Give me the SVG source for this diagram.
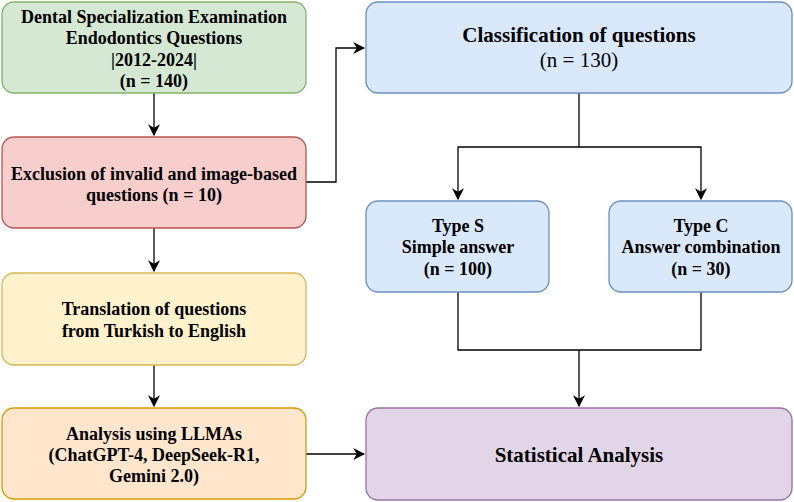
<svg xmlns="http://www.w3.org/2000/svg" width="794" height="502" viewBox="0 0 794 502">
<defs>
<marker id="arr" viewBox="0 0 10 10" refX="9" refY="5" markerWidth="12" markerHeight="12" markerUnits="userSpaceOnUse" orient="auto">
<path d="M0,0 L10,5 L0,10 L3,5 Z" fill="#000"/>
</marker>
<style>
.box{stroke-width:1.3}
.t{font-family:"Liberation Serif","Times New Roman",serif;font-weight:bold;font-size:18px;fill:#000;text-anchor:middle}
.n{font-weight:normal}
.big{font-size:21px}
.c{fill:none;stroke:#000;stroke-width:1.3}
</style>
</defs>
<g id="connectors">
<path class="c" d="M154,93 V135" marker-end="url(#arr)"/>
<path class="c" d="M154,228 V271" marker-end="url(#arr)"/>
<path class="c" d="M154,365 V406" marker-end="url(#arr)"/>
<path class="c" d="M306,182 H336 V48 H364" marker-end="url(#arr)"/>
<path class="c" d="M579,93 V147 H458 V199" marker-end="url(#arr)"/>
<path class="c" d="M579,147 H701 V199" marker-end="url(#arr)"/>
<path class="c" d="M458,292 V350 H701 V292"/>
<path class="c" d="M579,350 V406" marker-end="url(#arr)"/>
<path class="c" d="M306,454 H364" marker-end="url(#arr)"/>
</g>
<g id="n1">
<rect class="box" x="2" y="2" width="304" height="91" rx="12" fill="#d5e8d4" stroke="#82b366"/>
<text class="t" x="154" y="23">Dental Specialization Examination</text>
<text class="t" x="154" y="44">Endodontics Questions</text>
<text class="t" x="154" y="66">|2012-2024|</text>
<text class="t" x="154" y="87">(n = 140)</text>
</g>
<g id="n2">
<rect class="box" x="2" y="137" width="304" height="91" rx="12" fill="#f8cecc" stroke="#b85450"/>
<text class="t" x="154" y="180">Exclusion of invalid and image-based</text>
<text class="t" x="154" y="201">questions (n = 10)</text>
</g>
<g id="n3">
<rect class="box" x="2" y="273" width="304" height="92" rx="12" fill="#fff2cc" stroke="#d6b656"/>
<text class="t" x="154" y="315">Translation of questions</text>
<text class="t" x="154" y="337">from Turkish to English</text>
</g>
<g id="n4">
<rect class="box" x="2" y="408" width="304" height="91" rx="12" fill="#ffe6cc" stroke="#d79b00"/>
<text class="t" x="154" y="440">Analysis using LLMAs</text>
<text class="t" x="154" y="461">(ChatGPT-4, DeepSeek-R1,</text>
<text class="t" x="154" y="482">Gemini 2.0)</text>
</g>
<g id="n5">
<rect class="box" x="366" y="2" width="426" height="91" rx="12" fill="#dae8fc" stroke="#6c8ebf"/>
<text class="t big" x="579" y="42">Classification of questions</text>
<text class="t big n" x="579" y="67">(n = 130)</text>
</g>
<g id="n6">
<rect class="box" x="366" y="201" width="183" height="91" rx="12" fill="#dae8fc" stroke="#6c8ebf"/>
<text class="t" x="458" y="232">Type S</text>
<text class="t" x="458" y="253">Simple answer</text>
<text class="t" x="458" y="275">(n = 100)</text>
</g>
<g id="n7">
<rect class="box" x="609" y="201" width="183" height="91" rx="12" fill="#dae8fc" stroke="#6c8ebf"/>
<text class="t" x="701" y="232">Type C</text>
<text class="t" x="701" y="253">Answer combination</text>
<text class="t" x="701" y="275">(n = 30)</text>
</g>
<g id="n8">
<rect class="box" x="366" y="408" width="426" height="92" rx="12" fill="#e1d5e7" stroke="#9673a6"/>
<text class="t big" x="579" y="462">Statistical Analysis</text>
</g>
</svg>
